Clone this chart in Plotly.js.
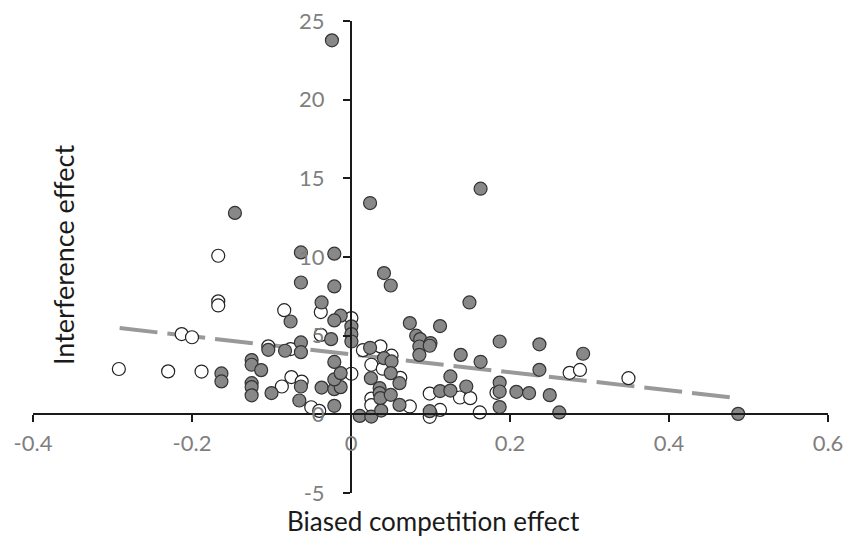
<!DOCTYPE html>
<html>
<head>
<meta charset="utf-8">
<script src="https://cdn.plot.ly/plotly-3.0.1.min.js"></script>
<style>html,body{margin:0;padding:0;background:#fff;}#chart{width:844px;height:543px;}</style>
</head>
<body>
<div id="chart"></div>
<script>
// Filled (gray) points
const filledX = [-0.024, 0.024, 0.163, -0.146, -0.063, -0.021, 0.0415, 0.050, -0.063, -0.021,
  -0.037, 0.149, -0.076, -0.013, -0.021, 0.0005, 0.0005, 0.0005, -0.025, -0.063,
  -0.063, -0.083, -0.104, -0.125, -0.125, -0.113, -0.163, -0.163, -0.125, -0.125,
  -0.125, -0.100, -0.063, -0.065, -0.037, -0.021, -0.021, -0.013, -0.021, -0.013,
  -0.021, 0.011, 0.0256, 0.074, 0.112, 0.082, 0.087, 0.086, 0.100, 0.099,
  0.086, 0.187, 0.237, 0.292, 0.138, 0.163, 0.024, 0.0415, 0.051, 0.050,
  0.025, 0.061, 0.036, 0.036, 0.037, 0.050, 0.038, 0.061, 0.125, 0.187,
  0.237, 0.112, 0.125, 0.145, 0.187, 0.208, 0.224, 0.250, 0.187, 0.262,
  0.099, 0.487];
const filledY = [23.77, 13.43, 14.34, 12.80, 10.29, 10.21, 8.98, 8.19, 8.38, 8.13,
  7.11, 7.11, 5.90, 6.27, 5.97, 5.59, 5.10, 4.63, 4.78, 4.57,
  3.95, 4.04, 4.10, 3.45, 3.15, 2.81, 2.60, 2.09, 1.98, 1.73,
  1.21, 1.35, 1.77, 0.88, 1.70, 0.54, 1.60, 1.73, 2.22, 2.62,
  3.33, -0.10, -0.14, 5.80, 5.61, 5.00, 4.78, 4.31, 4.53, 4.36,
  3.78, 4.63, 4.45, 3.85, 3.78, 3.34, 4.23, 3.57, 3.36, 2.62,
  2.30, 1.98, 1.67, 1.35, 1.03, 1.24, 0.24, 0.60, 2.41, 2.02,
  2.83, 1.48, 1.51, 1.77, 1.45, 1.43, 1.35, 1.22, 0.46, 0.12,
  0.20, 0.03];

// Open (white) points
const openX = [-0.292, -0.230, -0.188, -0.213, -0.200, -0.167, -0.167, -0.167, -0.084, -0.038,
  -0.038, -0.104, -0.076, -0.075, -0.087, -0.062, -0.050, -0.040, 0.0005, 0.0005,
  0.015, 0.037, 0.051, 0.0256, 0.040, 0.062, 0.0256, 0.0256, 0.074, 0.099,
  0.112, 0.100, 0.099, 0.137, 0.150, 0.183, 0.162, 0.275, 0.288, 0.349];
const openY = [2.88, 2.73, 2.72, 5.10, 4.90, 10.08, 7.18, 6.92, 6.62, 6.50,
  5.05, 4.32, 4.15, 2.37, 1.77, 2.08, 0.45, 0.22, 6.12, 2.58,
  4.08, 4.32, 3.73, 3.15, 2.90, 2.32, 1.00, 0.58, 0.50, 1.32,
  0.28, 0.05, -0.16, 1.07, 1.03, 1.37, 0.12, 2.64, 2.82, 2.30];

// Trend line end points
const trendX = [-0.291, 0.487];
const trendY = [5.48, 1.03];

const xTicks = [-0.4, -0.2, 0, 0.2, 0.4, 0.6];
const xTickText = ['-0.4', '-0.2', '0', '0.2', '0.4', '0.6'];
const yTicks = [-5, 0, 5, 10, 15, 20, 25];
const yTickText = ['-5', '0', '5', '10', '15', '20', '25'];

const xTitle = 'Biased competition effect';
const yTitle = 'Interference effect';

const FONT = 'Lato, "Open Sans", sans-serif';
const xRange = [-0.4, 0.6];
const yRange = [-5, 25];

const traces = [
  {
    x: trendX, y: trendY, type: 'scatter', mode: 'lines',
    line: {color: '#999999', width: 4, dash: '38px,10px'},
    hoverinfo: 'skip', showlegend: false
  },
  {
    x: openX, y: openY, type: 'scatter', mode: 'markers',
    marker: {size: 13, color: '#ffffff', line: {color: '#222222', width: 1.2}},
    showlegend: false
  },
  {
    x: filledX, y: filledY, type: 'scatter', mode: 'markers',
    marker: {size: 13, color: '#888888', line: {color: '#333333', width: 1.2}},
    showlegend: false
  }
];

const layout = {
  width: 844, height: 543,
  margin: {l: 33, r: 16, t: 21, b: 50},
  paper_bgcolor: '#ffffff', plot_bgcolor: '#ffffff',
  showlegend: false,
  font: {family: FONT},
  xaxis: {
    range: xRange, domain: [0, 1], anchor: 'free',
    position: (0 - yRange[0]) / (yRange[1] - yRange[0]),
    tickvals: xTicks, ticktext: xTickText,
    showgrid: false, zeroline: false,
    showline: true, linecolor: '#1a1a1a', linewidth: 2,
    ticks: 'outside', ticklen: 7, tickwidth: 2, tickcolor: '#1a1a1a',
    tickfont: {family: FONT, size: 22, color: '#7f7f7f'},
    ticklabelstandoff: 2
  },
  yaxis: {
    range: yRange, domain: [0, 1], anchor: 'free',
    position: (0 - xRange[0]) / (xRange[1] - xRange[0]),
    tickvals: yTicks, ticktext: yTickText,
    showgrid: false, zeroline: false,
    showline: true, linecolor: '#1a1a1a', linewidth: 2,
    ticks: 'outside', ticklen: 7, tickwidth: 2, tickcolor: '#1a1a1a',
    tickfont: {family: FONT, size: 22, color: '#7f7f7f'},
    ticklabelstandoff: 14
  },
  annotations: [
    {text: xTitle, xref: 'paper', yref: 'paper', x: 0.504, y: 0, yshift: -28,
     xanchor: 'center', yanchor: 'middle', showarrow: false,
     font: {family: FONT, size: 26, color: '#1a1a1a'}},
    {text: yTitle, xref: 'paper', yref: 'paper', x: 0, xshift: 30, y: 0.5, yshift: 2,
     xanchor: 'center', yanchor: 'middle', textangle: -90, showarrow: false,
     font: {family: FONT, size: 27, color: '#1a1a1a'}}
  ]
};

Plotly.newPlot('chart', traces, layout, {displayModeBar: false, staticPlot: true});
</script>
</body>
</html>
